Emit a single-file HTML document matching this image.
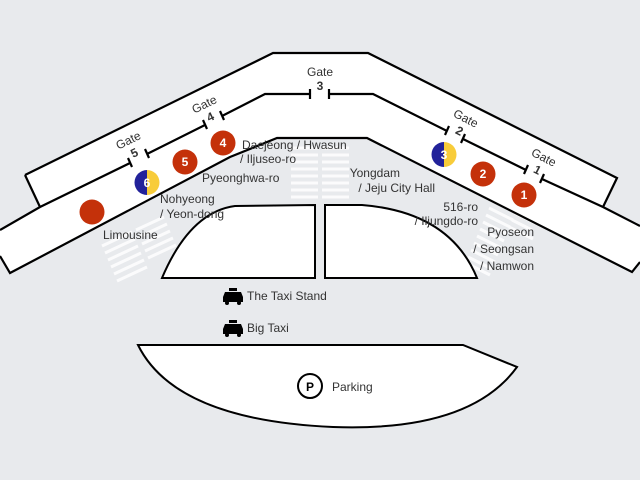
<!DOCTYPE html>
<html><head><meta charset="utf-8"><style>
html,body{margin:0;padding:0;background:#e8eaed;}
svg{display:block;}
text{font-family:"Liberation Sans",sans-serif;fill:#333;font-size:12px;}
.w{fill:#fff;font-weight:bold;font-size:12px;}
</style></head><body>
<svg width="640" height="480" viewBox="0 0 640 480" xmlns="http://www.w3.org/2000/svg">
<rect width="640" height="480" fill="#e8eaed"/>
<!-- crosswalk stripes -->
<g stroke="#fff" stroke-width="3" opacity="0.85">
  <path d="M291 148h27M291 155h27M291 162h27M291 169h27M291 176h27M291 183h27M291 190h27M291 197h27"/>
  <path d="M322 148h27M322 155h27M322 162h27M322 169h27M322 176h27M322 183h27M322 190h27M322 197h27"/>
  <path d="M102 246l30-14M105 253l30-14M108 260l30-14M111 267l30-14M114 274l30-14M117 281l30-14"/>
  <path d="M136 230l28-13M139 237l28-13M142 244l28-13M145 251l28-13M148 258l28-13"/>
  <path d="M489 208l24 12M486 215l24 12M483 222l24 12M480 229l24 12M477 236l24 12M474 243l24 12M471 250l24 12M468 257l24 12M468 264l22 11"/>
  <path d="M515 213l20 10M512 220l20 10M509 227l24 12"/>
</g>
<!-- upper strip -->
<polygon points="25,175 273,53 368,53 617,178 603,207 373,93 265,94 40,207" fill="#fff"/>
<!-- lower strip -->
<polygon points="0,230 40,207 265,94 373,93 603,207 640,226 640,262 632,272 367,138 277,138 230,157 10,273 0,255" fill="#fff"/>
<g fill="none" stroke="#000" stroke-width="2.2">
  <polyline points="25,175 273,53 368,53 617,178 603,207"/>
  <line x1="25" y1="175" x2="40" y2="207"/>
  <polyline points="0,230 40,207 130,163"/>
  <polyline points="147,154 205,125"/>
  <polyline points="222,116 265,94 310,94"/>
  <polyline points="329,94 373,94 447,131"/>
  <polyline points="463,139 526,170"/>
  <polyline points="542,179 603,207 640,226"/>
  <polyline points="0,256 10,273 230,157 277,138 367,138 632,272 640,262"/>
</g>
<!-- gate ticks -->
<g stroke="#000" stroke-width="2.2">
  <line x1="128" y1="158" x2="132" y2="167"/><line x1="145" y1="149" x2="149" y2="158"/>
  <line x1="203" y1="120" x2="207" y2="129"/><line x1="220" y1="111" x2="224" y2="120"/>
  <line x1="310" y1="89" x2="310" y2="99"/><line x1="329" y1="89" x2="329" y2="99"/>
  <line x1="449" y1="126" x2="445" y2="135"/><line x1="465" y1="134" x2="461" y2="143"/>
  <line x1="528" y1="165" x2="524" y2="174"/><line x1="544" y1="174" x2="540" y2="183"/>
</g>
<!-- gate labels -->
<g text-anchor="middle">
  <g transform="translate(130,144) rotate(-26)"><text>Gate</text><text y="14" font-size="14" font-weight="bold">5</text></g>
  <g transform="translate(206,108) rotate(-26)"><text>Gate</text><text y="14" font-size="14" font-weight="bold">4</text></g>
  <g transform="translate(320,76)"><text>Gate</text><text y="14" font-size="14" font-weight="bold">3</text></g>
  <g transform="translate(464,122) rotate(27)"><text>Gate</text><text y="14" font-size="14" font-weight="bold">2</text></g>
  <g transform="translate(542,161) rotate(27)"><text>Gate</text><text y="14" font-size="14" font-weight="bold">1</text></g>
</g>
<!-- inner shapes -->
<path d="M162,278 Q190,212 235,206 L315,205 L315,278 Z" fill="#fff" stroke="#000" stroke-width="2"/>
<path d="M325,278 L325,205 L362,205 Q450,212 477,278 Z" fill="#fff" stroke="#000" stroke-width="2"/>
<!-- parking -->
<path d="M138,345 L463,345 L517,367 Q470,432 333,427 Q175,420 138,345 Z" fill="#fff" stroke="#000" stroke-width="2"/>
<circle cx="310" cy="386" r="12" fill="#fff" stroke="#000" stroke-width="2"/>
<text x="310" y="391" text-anchor="middle" font-weight="bold" font-size="13" style="fill:#000">P</text>
<text x="332" y="391">Parking</text>
<!-- taxi -->
<g fill="#000">
  <rect x="229" y="288" width="8" height="3"/><path d="M225,292 h16 l2,5 v5 h-20 v-5 Z"/>
  <circle cx="227" cy="303" r="2"/><circle cx="239" cy="303" r="2"/>
  <rect x="229" y="320" width="8" height="3"/><path d="M225,324 h16 l2,5 v5 h-20 v-5 Z"/>
  <circle cx="227" cy="335" r="2"/><circle cx="239" cy="335" r="2"/>
</g>
<text x="247" y="300">The Taxi Stand</text>
<text x="247" y="332">Big Taxi</text>
<!-- markers -->
<g fill="#c4310a">
  <circle cx="92" cy="212" r="12.5"/>
  <circle cx="185" cy="162" r="12.5"/><circle cx="223" cy="143" r="12.5"/>
  <circle cx="483" cy="174" r="12.5"/><circle cx="524" cy="195" r="12.5"/>
</g>
<path d="M147,170 A12.5,12.5 0 0 0 147,195 Z" fill="#22229a"/><path d="M147,170 A12.5,12.5 0 0 1 147,195 Z" fill="#f8cc3a"/>
<path d="M444,142 A12.5,12.5 0 0 0 444,167 Z" fill="#22229a"/><path d="M444,142 A12.5,12.5 0 0 1 444,167 Z" fill="#f8cc3a"/>
<text class="w" x="185" y="166" text-anchor="middle">5</text>
<text class="w" x="223" y="147" text-anchor="middle">4</text>
<text class="w" x="147" y="187" text-anchor="middle">6</text>
<text class="w" x="444" y="159" text-anchor="middle">3</text>
<text class="w" x="483" y="178" text-anchor="middle">2</text>
<text class="w" x="524" y="199" text-anchor="middle">1</text>
<!-- labels -->
<text x="242" y="149">Daejeong / Hwasun</text>
<text x="240" y="163">/ Iljuseo-ro</text>
<text x="202" y="182">Pyeonghwa-ro</text>
<text x="160" y="203">Nohyeong</text>
<text x="160" y="218">/ Yeon-dong</text>
<text x="103" y="239">Limousine</text>
<g text-anchor="end">
  <text x="400" y="177">Yongdam</text>
  <text x="435" y="192">/ Jeju City Hall</text>
  <text x="478" y="211">516-ro</text>
  <text x="478" y="225">/ Iljungdo-ro</text>
  <text x="534" y="236">Pyoseon</text>
  <text x="534" y="253">/ Seongsan</text>
  <text x="534" y="270">/ Namwon</text>
</g>
</svg>
</body></html>
